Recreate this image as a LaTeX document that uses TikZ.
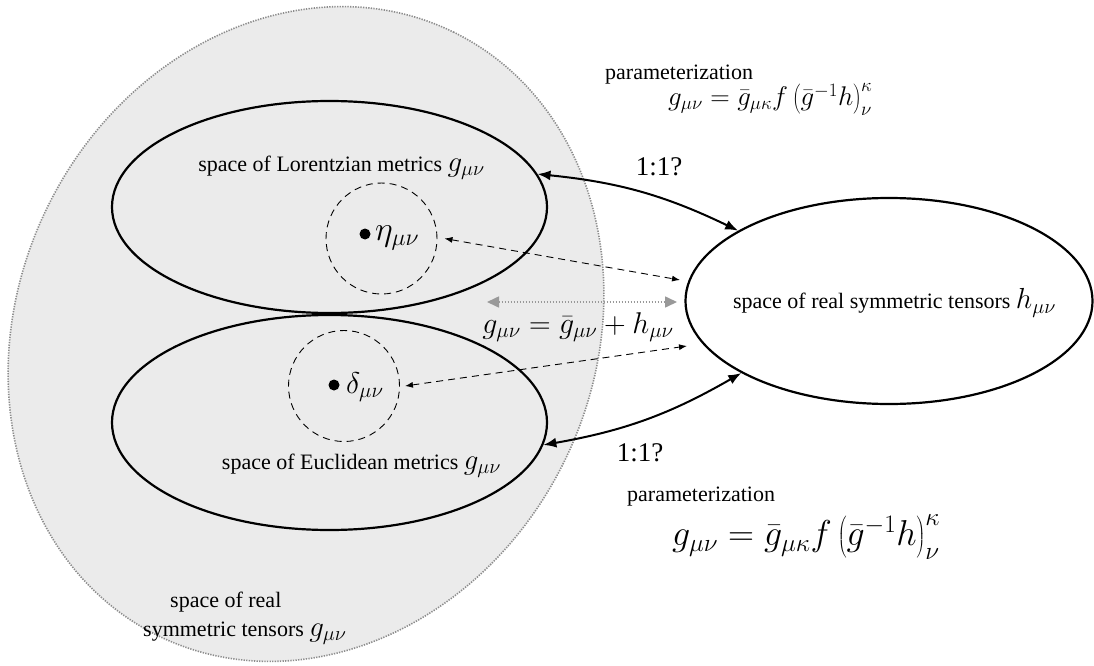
\RequirePackage{fix-cm}
\documentclass[tikz,border=0pt]{standalone}
\usepackage[no-math]{fontspec}
\setmainfont{Liberation Serif}
\usetikzlibrary{arrows.meta,shapes.geometric}
\newcommand{\mth}[1]{{\fontsize{29}{29}\selectfont$#1$}}
\begin{document}
\begin{tikzpicture}[x=1pt,y=-1pt,
  bgreg/.style={fill=black!8, draw=black!45, line width=1.6pt, dash pattern=on 1.3pt off 1.3pt},
  region/.style={draw, ellipse, line width=2.2pt, inner sep=0pt},
  nbhd/.style={draw, circle, line width=0.9pt, dash pattern=on 7pt off 5pt, inner sep=0pt, minimum size=111pt},
  dotn/.style={circle, fill=black, inner sep=0pt, minimum size=11pt},
  lbl/.style={font=\fontsize{22}{29}\selectfont, inner sep=0pt},
  biglbl/.style={font=\fontsize{27}{32}\selectfont, inner sep=0pt},
  bigarrow/.style={line width=2pt, {Latex[length=13pt,width=10pt]}-{Latex[length=13pt,width=10pt]}},
  dasharrow/.style={line width=0.9pt, dash pattern=on 7pt off 5pt, {Latex[length=8pt,width=6pt]}-{Latex[length=8pt,width=6pt]}},
  greyarrow/.style={draw=black!40, line width=1.6pt, dash pattern=on 1.5pt off 1.5pt, {Triangle[length=12pt,width=11pt,fill=black!40]}-{Triangle[length=12pt,width=11pt,fill=black!40]}}
]
\useasboundingbox (0,0) rectangle (1094,666);
\fill[white] (0,0) rectangle (1094,666);
\draw[bgreg, rotate around={64:(306,334)}] (306,334) ellipse [x radius=336, y radius=288];

\node[region, minimum width=435pt, minimum height=212pt] (L) at (329.5,207) {};
\node[region, minimum width=435pt, minimum height=215pt] (E) at (329.5,422.5) {};
\node[region, minimum width=407pt, minimum height=206pt] (H) at (889,301) {};

\node[nbhd] (Lc) at (381.5,238.5) {};
\node[nbhd] (Ec) at (344,386) {};
\node[dotn] (ld) at (365,234) {};
\node[lbl, font=\fontsize{34}{40}\selectfont, anchor=west] (eta) at (375,238) {$\eta_{\mu\nu}$};
\node[dotn] (edot) at (334,385) {};
\node[lbl, font=\fontsize{30}{36}\selectfont, anchor=west] (delta) at (346,387) {$\delta_{\mu\nu}$};

\node[lbl] (Ltxt) at (341.5,168) {space of Lorentzian metrics \mth{g_{\mu\nu}}};
\node[lbl] (Etxt) at (361.5,466) {space of Euclidean metrics \mth{g_{\mu\nu}}};
\node[lbl] (Htxt) at (894.5,303) {space of real symmetric tensors \mth{h_{\mu\nu}}};
\node[lbl, anchor=west, align=left] (Gtxt) at (143,618) {\hspace*{27pt}space of real\\symmetric tensors \mth{g_{\mu\nu}}};

\node[lbl, anchor=west] (p1) at (605,75) {parameterization};
\node[lbl, font=\fontsize{27}{32}\selectfont, anchor=west] (f1) at (668,99) {$g_{\mu\nu}=\bar g_{\mu\kappa} f\left(\bar g^{-1}h\right)^{\kappa}_{\nu}$};
\node[lbl, anchor=west] (p2) at (627,497) {parameterization};
\node[lbl, font=\fontsize{36}{40}\selectfont, anchor=west] (f2) at (672,537) {$g_{\mu\nu}=\bar g_{\mu\kappa} f\left(\bar g^{-1}h\right)^{\kappa}_{\nu}$};

\node[biglbl] (o1) at (659,167) {1:1?};
\node[biglbl] (o2) at (640,453) {1:1?};

\node[lbl, font=\fontsize{30}{36}\selectfont] (sum) at (578,327) {$g_{\mu\nu}=\bar g_{\mu\nu}+h_{\mu\nu}$};

\draw[bigarrow] (L.9) to[bend left=10] (H.155);
\draw[bigarrow] (E.-6) to[bend right=10] (H.206);

\coordinate (hu) at (680,280);
\coordinate (hd) at (687,346);
\coordinate (gl) at (487,302);
\coordinate (gr) at (677,302);
\draw[dasharrow] ([xshift=7pt]Lc.east) -- (hu);
\draw[dasharrow] ([xshift=5pt]Ec.east) -- (hd);
\draw[greyarrow] (gl) -- (gr);
\end{tikzpicture}
\end{document}
